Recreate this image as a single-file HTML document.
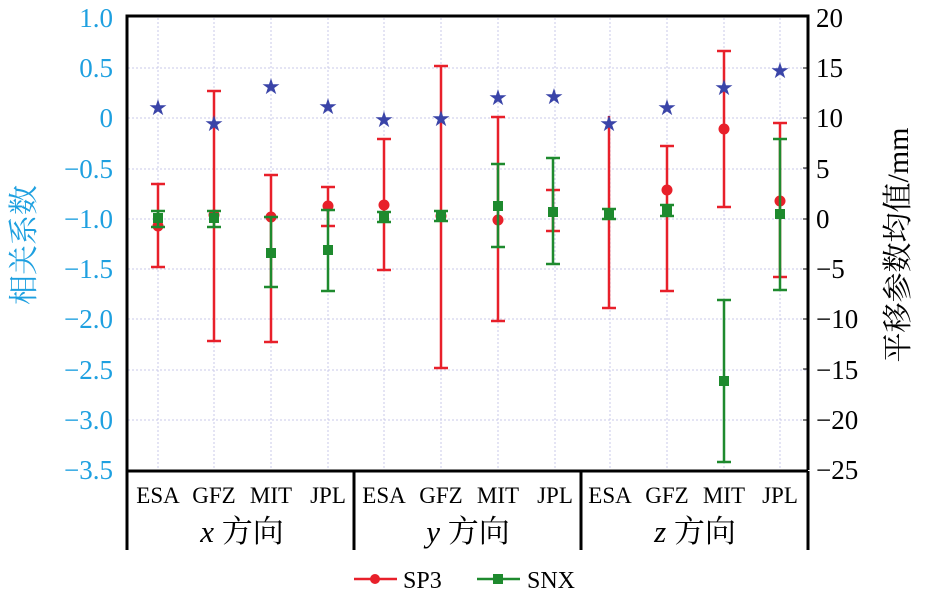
<!DOCTYPE html><html><head><meta charset="utf-8"><style>body{margin:0;background:#fff}svg{display:block}</style></head><body>
<svg width="930" height="591" xmlns="http://www.w3.org/2000/svg" font-family="Liberation Serif, Noto Serif CJK SC, serif">
<g stroke="#c8c8e8" stroke-width="1" stroke-dasharray="2,2">
<line x1="128" y1="68" x2="808" y2="68"/><line x1="128" y1="118" x2="808" y2="118"/><line x1="128" y1="169" x2="808" y2="169"/><line x1="128" y1="219" x2="808" y2="219"/><line x1="128" y1="269" x2="808" y2="269"/><line x1="128" y1="319" x2="808" y2="319"/><line x1="128" y1="370" x2="808" y2="370"/><line x1="128" y1="420" x2="808" y2="420"/>
<line x1="158" y1="18" x2="158" y2="470"/><line x1="214" y1="18" x2="214" y2="470"/><line x1="271" y1="18" x2="271" y2="470"/><line x1="328" y1="18" x2="328" y2="470"/><line x1="384" y1="18" x2="384" y2="470"/><line x1="441" y1="18" x2="441" y2="470"/><line x1="498" y1="18" x2="498" y2="470"/><line x1="555" y1="18" x2="555" y2="470"/><line x1="610" y1="18" x2="610" y2="470"/><line x1="667" y1="18" x2="667" y2="470"/><line x1="724" y1="18" x2="724" y2="470"/><line x1="780" y1="18" x2="780" y2="470"/>
</g>
<g stroke="#000" stroke-width="3" fill="none">
<polyline points="127,550 127,16 808,16 808,470"/>
<line x1="127" y1="471" x2="808" y2="471"/>
<line x1="354" y1="471" x2="354" y2="550"/><line x1="581" y1="471" x2="581" y2="550"/><line x1="808" y1="471" x2="808" y2="550"/>
</g>
<g stroke="#000" stroke-width="1">
<line x1="808" y1="68" x2="803" y2="68"/><line x1="808" y1="118" x2="803" y2="118"/><line x1="808" y1="168" x2="803" y2="168"/><line x1="808" y1="219" x2="803" y2="219"/><line x1="808" y1="269" x2="803" y2="269"/><line x1="808" y1="319" x2="803" y2="319"/><line x1="808" y1="369" x2="803" y2="369"/><line x1="808" y1="420" x2="803" y2="420"/>
</g>
<g fill="#1ea0e0" font-size="27" text-anchor="end">
<text x="113" y="27">1.0</text><text x="113" y="77">0.5</text><text x="113" y="127">0</text><text x="113" y="178">−0.5</text><text x="113" y="228">−1.0</text><text x="113" y="278">−1.5</text><text x="113" y="328">−2.0</text><text x="113" y="379">−2.5</text><text x="113" y="429">−3.0</text><text x="113" y="479">−3.5</text>
</g>
<text transform="translate(34,245) rotate(-90)" fill="#1ea0e0" font-size="30" text-anchor="middle">相关系数</text>
<g fill="#000" font-size="27" text-anchor="start">
<text x="816" y="27">20</text><text x="816" y="77">15</text><text x="816" y="127">10</text><text x="816" y="178">5</text><text x="816" y="228">0</text><text x="816" y="278">−5</text><text x="816" y="328">−10</text><text x="816" y="379">−15</text><text x="816" y="429">−20</text><text x="816" y="479">−25</text>
</g>
<text transform="translate(908,245) rotate(-90)" font-size="30" text-anchor="middle">平移参数均值/mm</text>
<g font-size="23" text-anchor="middle">
<text x="158" y="503">ESA</text><text x="214" y="503">GFZ</text><text x="271" y="503">MIT</text><text x="328" y="503">JPL</text>
<text x="384" y="503">ESA</text><text x="441" y="503">GFZ</text><text x="498" y="503">MIT</text><text x="555" y="503">JPL</text>
<text x="610" y="503">ESA</text><text x="667" y="503">GFZ</text><text x="724" y="503">MIT</text><text x="780" y="503">JPL</text>
</g>
<g font-size="31" text-anchor="middle">
<text x="242" y="542"><tspan font-style="italic">x</tspan> 方向</text>
<text x="468" y="542"><tspan font-style="italic">y</tspan> 方向</text>
<text x="695" y="542"><tspan font-style="italic">z</tspan> 方向</text>
</g>
<g stroke="#e8202a" stroke-width="2.5" fill="#e8202a">
<path d="M158 184V267M151 184H165M151 267H165"/><circle cx="158" cy="226" r="5.5" stroke="none"/>
<path d="M214 91V341M207 91H221M207 341H221"/><circle cx="214" cy="215" r="5.5" stroke="none"/>
<path d="M271 175V342M264 175H278M264 342H278"/><circle cx="271" cy="217" r="5.5" stroke="none"/>
<path d="M328 187V226M321 187H335M321 226H335"/><circle cx="328" cy="206" r="5.5" stroke="none"/>
<path d="M384 139V270M377 139H391M377 270H391"/><circle cx="384" cy="205" r="5.5" stroke="none"/>
<path d="M441 66V368M434 66H448M434 368H448"/><circle cx="441" cy="216" r="5.5" stroke="none"/>
<path d="M498 117V321M491 117H505M491 321H505"/><circle cx="498" cy="220" r="5.5" stroke="none"/>
<path d="M553 190V231M546 190H560M546 231H560"/>
<path d="M609 116V308M602 308H616"/>
<path d="M667 146V291M660 146H674M660 291H674"/><circle cx="667" cy="190" r="5.5" stroke="none"/>
<path d="M724 51V207M717 51H731M717 207H731"/><circle cx="724" cy="129" r="5.5" stroke="none"/>
<path d="M780 123V277M773 123H787M773 277H787"/><circle cx="780" cy="201" r="5.5" stroke="none"/>
</g>
<g stroke="#1e8a2e" stroke-width="2.5" fill="#1e8a2e">
<path d="M158 211V227M151 211H165M151 227H165"/><rect x="153" y="213" width="10" height="10" stroke="none"/>
<path d="M214 211V227M207 211H221M207 227H221"/><rect x="209" y="213" width="10" height="10" stroke="none"/>
<path d="M271 217V287M264 217H278M264 287H278"/><rect x="266" y="248" width="10" height="10" stroke="none"/>
<path d="M328 210V291M321 210H335M321 291H335"/><rect x="323" y="245" width="10" height="10" stroke="none"/>
<path d="M384 212V222M377 212H391M377 222H391"/><rect x="379" y="212" width="10" height="10" stroke="none"/>
<path d="M441 211V221M434 211H448M434 221H448"/><rect x="436" y="211" width="10" height="10" stroke="none"/>
<path d="M498 164V247M491 164H505M491 247H505"/><rect x="493" y="201" width="10" height="10" stroke="none"/>
<path d="M553 158V264M546 158H560M546 264H560"/><rect x="548" y="207" width="10" height="10" stroke="none"/>
<path d="M609 209V219M602 209H616M602 219H616"/><rect x="604" y="209" width="10" height="10" stroke="none"/>
<path d="M667 205V216M660 205H674M660 216H674"/><rect x="662" y="206" width="10" height="10" stroke="none"/>
<path d="M724 300V462M717 300H731M717 462H731"/><rect x="719" y="376" width="10" height="10" stroke="none"/>
<path d="M780 139V290M773 139H787M773 290H787"/><rect x="775" y="209" width="10" height="10" stroke="none"/>
</g>
<g fill="#3a44a8" font-size="22" text-anchor="middle" font-family="DejaVu Sans, sans-serif">
<text x="158" y="115">★</text><text x="214" y="131">★</text><text x="271" y="94">★</text><text x="328" y="114">★</text>
<text x="384" y="127">★</text><text x="441" y="126">★</text><text x="498" y="105">★</text><text x="554" y="104">★</text>
<text x="609" y="131">★</text><text x="667" y="115">★</text><text x="724" y="95">★</text><text x="780" y="78">★</text>
</g>
<line x1="354" y1="579" x2="397" y2="579" stroke="#e8202a" stroke-width="2.5"/><circle cx="375" cy="579" r="5" fill="#e8202a"/>
<text x="403" y="588" font-size="24">SP3</text>
<line x1="477" y1="579" x2="520" y2="579" stroke="#1e8a2e" stroke-width="2.5"/><rect x="493" y="574" width="10" height="10" fill="#1e8a2e"/>
<text x="527" y="588" font-size="24">SNX</text>
</svg>
</body></html>
